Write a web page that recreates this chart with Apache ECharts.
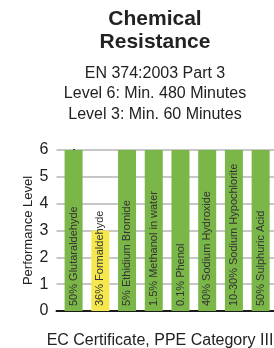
<!DOCTYPE html>
<html><head><meta charset="utf-8">
<script src="https://cdn.jsdelivr.net/npm/echarts@6/dist/echarts.min.js"></script>
<style>html,body{margin:0;padding:0;background:#fff}#c{width:274px;height:348px}</style>
</head><body><div id="c"></div>
<script>
const categories = ["50% Glutaraldehyde","36% Formaldehyde","5% Ethidium Bromide","1.5% Methanol in water","0.1% Phenol","40% Sodium Hydroxide","10-30% Sodium Hypochlorite","50% Sulphuric Acid"];
const levels = [6, 3, 6, 6, 6, 6, 6, 6];
const yTicks = [0, 1, 2, 3, 4, 5, 6];
const titleText = "Chemical\nResistance";
const subText = "EN 374:2003 Part 3\nLevel 6: Min. 480 Minutes\nLevel 3: Min. 60 Minutes";
const footText = "EC Certificate, PPE Category III";

const GREEN = "#7ab648", YELLOW = "#f5e84c";
const FONT = "Liberation Sans, Arial, sans-serif";
const chart = echarts.init(document.getElementById('c'), null, {renderer:'canvas'});
chart.setOption({
  animation: false,
  backgroundColor: '#fff',
  title: [
    {text: titleText, left: 155, top: 8, textAlign: 'center', padding: 0,
     textStyle: {fontFamily: FONT, fontSize: 21, fontWeight: 'bold', lineHeight: 23, color: '#222'}},
    {text: subText, left: 155, top: 63, textAlign: 'center', padding: 0,
     textStyle: {fontFamily: FONT, fontSize: 16, fontWeight: 'normal', lineHeight: 20.5, color: '#222'}},
    {text: footText, left: 160, top: 333, textAlign: 'center', padding: 0,
     textStyle: {fontFamily: FONT, fontSize: 16, fontWeight: 'normal', color: '#222'}}
  ],
  grid: {left: 56.5, right: -4.7, top: 150, bottom: 37, containLabel: false},
  xAxis: {type: 'value', min: -0.64, max: 7.5,
    axisLine: {show: true, onZero: false, lineStyle: {color: '#1a1a1a', width: 2}},
    axisTick: {show: false}, axisLabel: {show: false}, splitLine: {show: false}},
  yAxis: {type: 'value', min: yTicks[0], max: yTicks[yTicks.length-1], interval: 1,
    name: 'Performance Level', nameLocation: 'middle', nameGap: 22, nameMoveOverlap: false,
    nameTextStyle: {fontFamily: FONT, fontSize: 13, color: '#222'},
    axisLine: {show: true, lineStyle: {color: '#1a1a1a', width: 2}},
    axisTick: {show: false},
    axisLabel: {fontFamily: FONT, fontSize: 16, color: '#222', margin: 8},
    splitLine: {show: true, lineStyle: {color: '#b5b5b5', width: 1.5}}},
  series: [{
    type: 'bar', barWidth: 18,
    data: categories.map((c, i) => ({value: [i, levels[i]], name: c,
      itemStyle: {color: levels[i] >= 6 ? GREEN : YELLOW}})),
    label: {show: true, position: 'insideBottom', distance: 5, rotate: 90,
      align: 'left', verticalAlign: 'middle', formatter: '{b}',
      fontFamily: FONT, fontSize: 11, color: '#333'},
    z: 1
  }]
});
</script></body></html>
